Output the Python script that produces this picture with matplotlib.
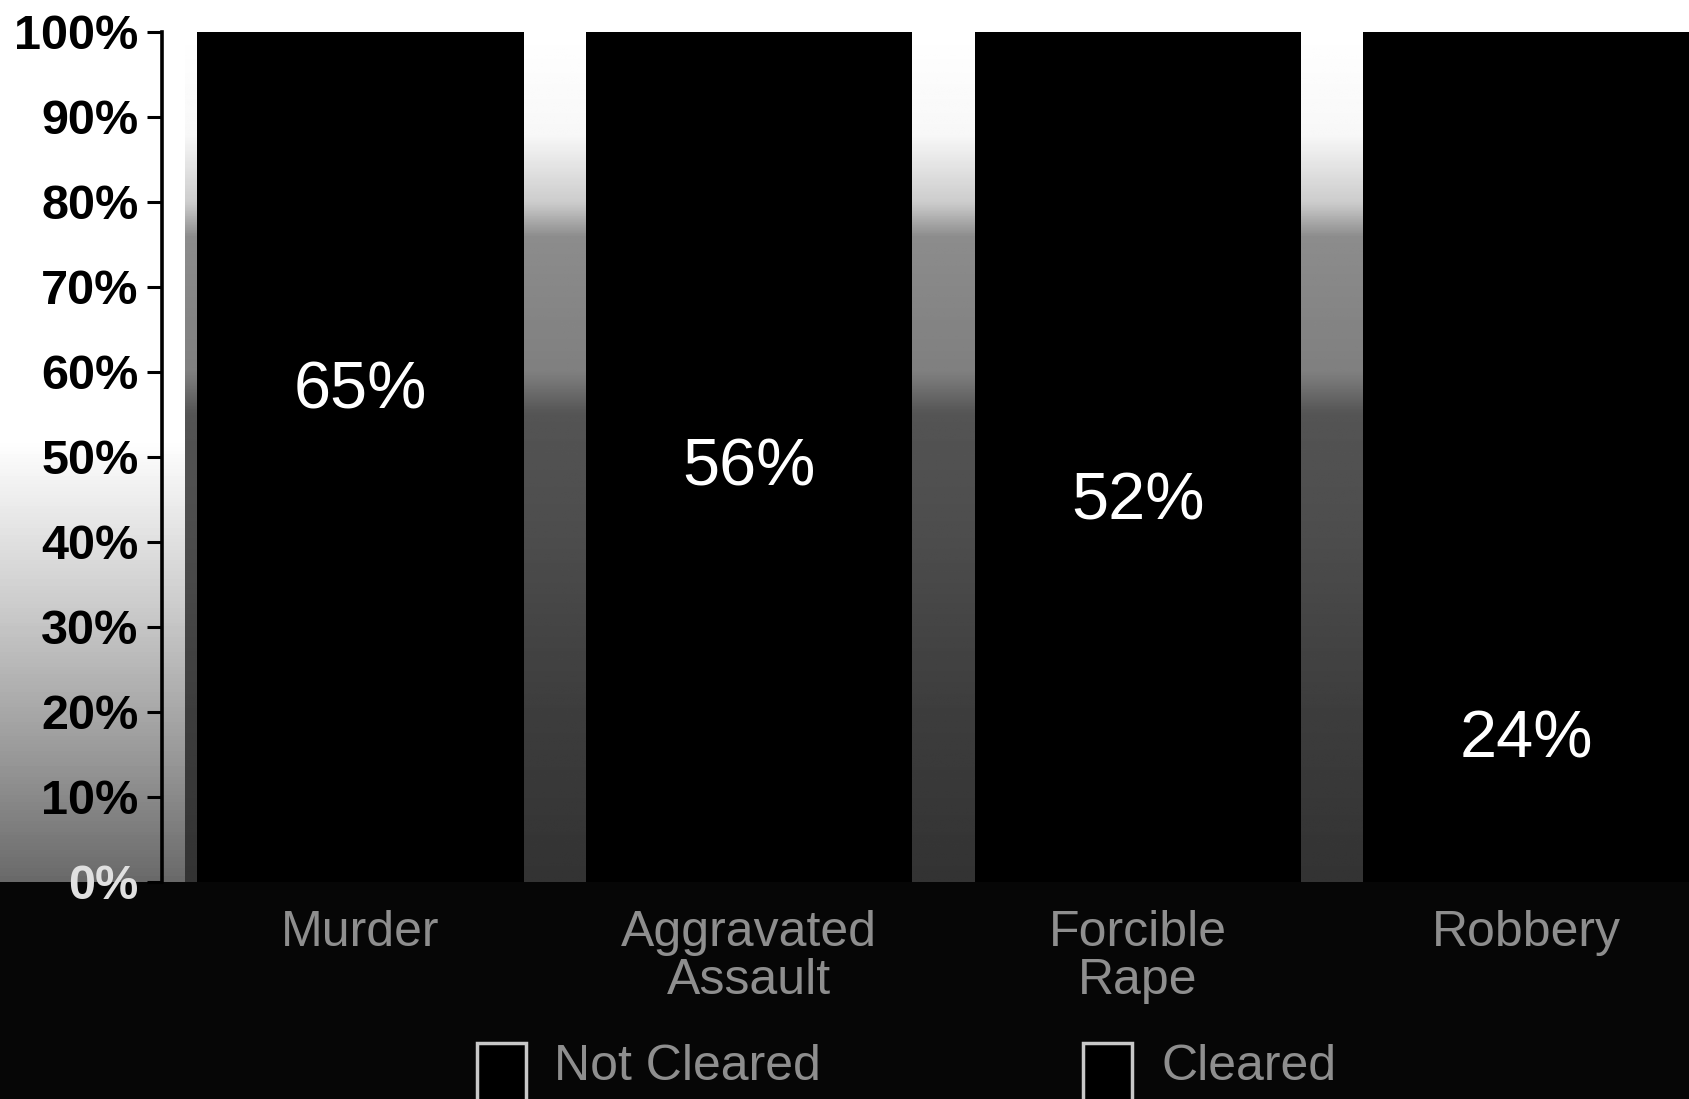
import numpy as np
import matplotlib
matplotlib.use('Agg')
import matplotlib.pyplot as plt
from matplotlib.patches import Rectangle

# clearance rates by offence
crimes = ['Murder', 'Aggravated\nAssault', 'Forcible\nRape', 'Robbery']
cleared = [65, 56, 52, 24]
not_cleared = [100 - c for c in cleared]
ytick_vals = [0, 10, 20, 30, 40, 50, 60, 70, 80, 90, 100]
legend_names = ['Not Cleared', 'Cleared']

plt.rcParams['font.family'] = ['Liberation Sans', 'DejaVu Sans']

fig = plt.figure(figsize=(16.9, 10.99), dpi=100)

# paper tone behind everything, greyer towards the bottom
bg = fig.add_axes([0, 0, 1, 1], zorder=-2)
yy = np.linspace(0, 1, 300)
tone = np.interp(yy, [0.19, 0.3, 0.45, 0.6, 1.0], [0.4, 0.58, 0.8, 1.0, 1.0])
bg.imshow(np.repeat(tone[:, None], 10, axis=1), cmap='gray', vmin=0, vmax=1,
          extent=[0, 1, 0, 1], aspect='auto', origin='lower')
bg.axis('off')

# dark strip under the plot
fig.patches.append(Rectangle((0, 0), 1, 0.1975, transform=fig.transFigure,
                             facecolor='#060606', edgecolor='none', zorder=-1))

ax = fig.add_axes([0.0959, 0.1975, 0.9041, 0.7734])
x = np.arange(len(crimes))
xmin, xmax = -0.51, 3.42

# shaded back wall seen between the columns
wy = np.linspace(0, 100, 300)
wall = np.interp(wy, [0, 20, 40, 55, 60, 76, 80, 88, 100],
                 [0.2, 0.24, 0.3, 0.33, 0.5, 0.55, 0.8, 0.97, 1.0])
ax.imshow(np.repeat(wall[:, None], 10, axis=1), cmap='gray', vmin=0, vmax=1,
          extent=[xmin + 0.06, xmax, 0, 100], aspect='auto', origin='lower', zorder=0)

ax.bar(x, cleared, width=0.84, color='black', zorder=2)
ax.bar(x, not_cleared, bottom=cleared, width=0.84, color='black', zorder=2)

for xi, c in zip(x, cleared):
    ax.text(xi, c - 7.3, f'{c}%', color='white', fontsize=48,
            ha='center', va='center', zorder=3)

ax.set_xlim(xmin, xmax)
ax.set_ylim(0, 100)
ax.set_yticks(ytick_vals)
ax.set_yticklabels([f'{v}%' for v in ytick_vals], fontsize=35, fontweight='bold')
ax.get_yticklabels()[0].set_color('#e0e0e0')
ax.tick_params(axis='y', length=11, width=2.2, pad=6, color='black')
ax.set_xticks(x)
ax.set_xticklabels(crimes, fontsize=36, color='#8e8e8e', linespacing=1.05)
ax.tick_params(axis='x', length=0, pad=20)
for side in ['top', 'right', 'bottom']:
    ax.spines[side].set_visible(False)
ax.spines['left'].set_linewidth(2.6)
ax.patch.set_alpha(0)

# legend along the bottom edge
for lx, name in zip([0.282, 0.641], legend_names):
    fig.patches.append(Rectangle((lx, -0.01), 0.029, 0.061, transform=fig.transFigure,
                                 facecolor='black', edgecolor='#c8c8c8', lw=2.5, zorder=2))
    fig.text(lx + 0.046, 0.029, name, fontsize=36, color='#8e8e8e', va='center')

fig.savefig('out.png', dpi=100)
